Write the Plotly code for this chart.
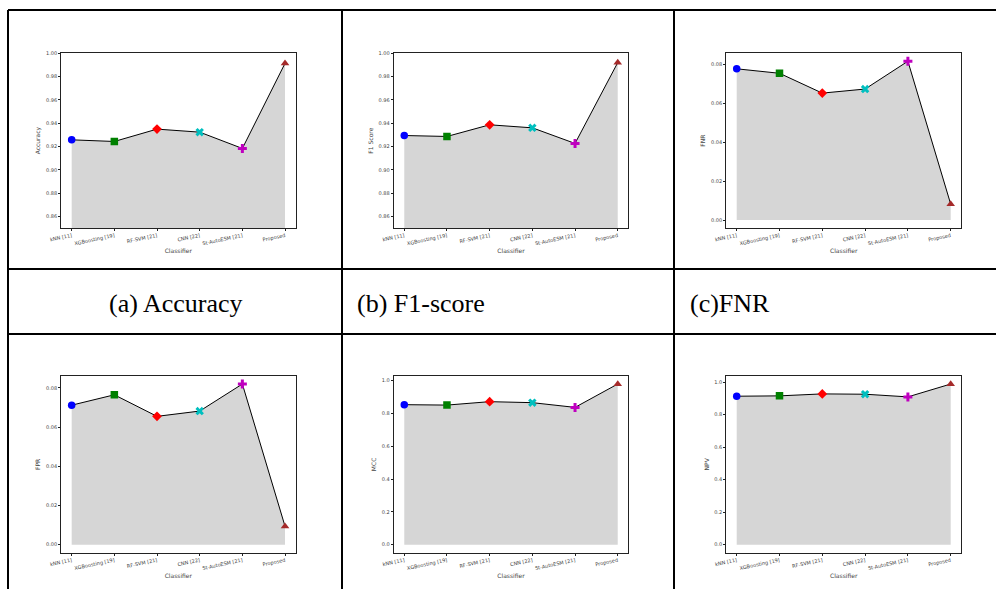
import plotly.graph_objects as go

# Classifiers compared in every panel
classifiers = ["kNN [11]", "XGBoosting [19]", "RF-SVM [21]", "CNN [22]", "St-AutoESM [21]", "Proposed"]

# Metric values per classifier
accuracy = [0.9257, 0.9243, 0.9349, 0.9323, 0.9183, 0.9914]
f1_score = [0.9294, 0.9286, 0.9386, 0.9360, 0.9226, 0.9920]
fnr = [0.0778, 0.0755, 0.0653, 0.0674, 0.0817, 0.0082]
fpr = [0.0712, 0.0765, 0.0655, 0.0682, 0.0820, 0.0094]
mcc = [0.8535, 0.8510, 0.8719, 0.8658, 0.8370, 0.9794]
npv = [0.9128, 0.9149, 0.9270, 0.9250, 0.9087, 0.9877]

# Marker style for each classifier
marker_symbols = ["circle", "square", "diamond", "x", "cross", "triangle-up"]
marker_colors = ["#0000FF", "#008000", "#FF0000", "#00BFBF", "#BF00BF", "#A52A2A"]

captions = ["(a) Accuracy", "(b) F1-score", "(c)FNR"]

W, H = 996, 589

# panel: (values, y title, fixed range or None, tick values, tick format, x px, y px)
panels = [
    (accuracy, "Accuracy", [0.85, 1.00], [0.86, 0.88, 0.90, 0.92, 0.94, 0.96, 0.98, 1.00], ".2f",
     (61, 295.7), (53.3, 228.0)),
    (f1_score, "F1 Score", [0.85, 1.00], [0.86, 0.88, 0.90, 0.92, 0.94, 0.96, 0.98, 1.00], ".2f",
     (393.6, 628.4), (53.3, 228.0)),
    (fnr, "FNR", None, [0.00, 0.02, 0.04, 0.06, 0.08], ".2f",
     (726.0, 961.4), (53.3, 228.0)),
    (fpr, "FPR", None, [0.00, 0.02, 0.04, 0.06, 0.08], ".2f",
     (61, 295.7), (376.0, 552.7)),
    (mcc, "MCC", None, [0.0, 0.2, 0.4, 0.6, 0.8, 1.0], ".1f",
     (393.6, 628.4), (376.0, 552.7)),
    (npv, "NPV", None, [0.0, 0.2, 0.4, 0.6, 0.8, 1.0], ".1f",
     (726.0, 961.4), (376.0, 552.7)),
]

fig = go.Figure()
xs = list(range(len(classifiers)))
tick_font = dict(family="DejaVu Sans", size=5, color="#444444")
title_font = dict(family="DejaVu Sans", size=6, color="#444444")

for i, (vals, ytitle, yrange, yticks, yfmt, (x0, x1), (y0, y1)) in enumerate(panels):
    n = i + 1
    xa = "x" if n == 1 else f"x{n}"
    ya = "y" if n == 1 else f"y{n}"

    # shaded area under the curve, with the connecting line
    fig.add_trace(go.Scatter(
        x=xs, y=vals, mode="lines", fill="tozeroy",
        fillcolor="#D6D6D6", line=dict(color="black", width=1),
        xaxis=xa, yaxis=ya, showlegend=False, hoverinfo="skip"))
    # one marker per classifier
    for k in xs:
        fig.add_trace(go.Scatter(
            x=[k], y=[vals[k]], mode="markers",
            marker=dict(symbol=marker_symbols[k], color=marker_colors[k], size=7.5,
                        line=dict(width=0)),
            xaxis=xa, yaxis=ya, showlegend=False))

    if yrange is None:
        lo, hi = min(0, min(vals)), max(vals)
        pad = 0.05 * (hi - lo)
        yrange = [lo - pad, hi + pad]

    axis_common = dict(showline=True, mirror=True, linecolor="#222222", linewidth=0.8,
                       ticks="outside", ticklen=2, tickwidth=0.6, tickcolor="#222222",
                       showgrid=False, zeroline=False, tickfont=tick_font,
                       automargin=False)
    fig.layout[f"xaxis{'' if n == 1 else n}"] = dict(
        domain=[x0 / W, x1 / W], anchor=ya, range=[-0.25, 5.25],
        tickmode="array", tickvals=xs, ticktext=classifiers, tickangle=-12,
        title=dict(text="Classifier", font=title_font, standoff=2), **axis_common)
    fig.layout[f"yaxis{'' if n == 1 else n}"] = dict(
        domain=[1 - y1 / H, 1 - y0 / H], anchor=xa, range=yrange,
        tickmode="array", tickvals=yticks, tickformat=yfmt,
        title=dict(text=ytitle, font=title_font, standoff=4), **axis_common)

# table rules around the panels
shapes = []
line = dict(color="black", width=2)
for yy in (10, 269, 334):
    shapes.append(dict(type="line", xref="paper", yref="paper",
                       x0=8 / W, x1=1, y0=1 - yy / H, y1=1 - yy / H, line=line))
for xx in (8, 342, 674):
    shapes.append(dict(type="line", xref="paper", yref="paper",
                       x0=xx / W, x1=xx / W, y0=0, y1=1 - 10 / H, line=line))

cap_font = dict(family="Liberation Serif", size=26, color="black")
annotations = [
    dict(text=captions[0], x=176 / W, y=1 - 303 / H, xref="paper", yref="paper",
         xanchor="center", yanchor="middle", showarrow=False, font=cap_font),
    dict(text=captions[1], x=355 / W, y=1 - 303 / H, xref="paper", yref="paper",
         xanchor="left", yanchor="middle", showarrow=False, font=cap_font),
    dict(text=captions[2], x=688 / W, y=1 - 303 / H, xref="paper", yref="paper",
         xanchor="left", yanchor="middle", showarrow=False, font=cap_font),
]

fig.update_layout(width=W, height=H,
                  margin=dict(l=0, r=0, t=0, b=0, pad=0, autoexpand=False),
                  paper_bgcolor="white", plot_bgcolor="white",
                  shapes=shapes, annotations=annotations)

fig.write_html("out.html")
